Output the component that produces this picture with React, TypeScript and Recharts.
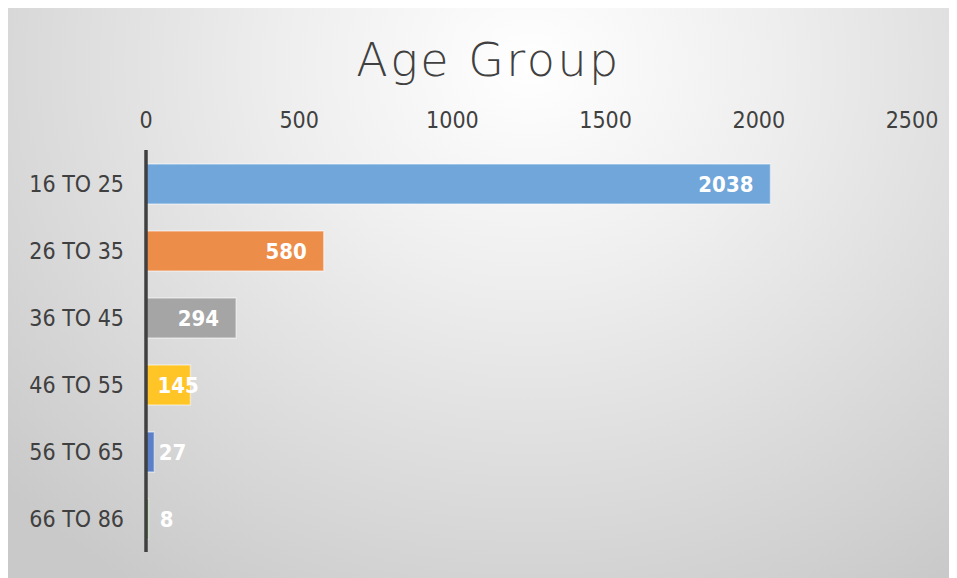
import React from 'react';
import { BarChart, Bar, XAxis, YAxis, Cell, LabelList } from 'recharts';

const categories = ['16 TO 25', '26 TO 35', '36 TO 45', '46 TO 55', '56 TO 65', '66 TO 86'];
const counts = [2038, 580, 294, 145, 27, 8];
const barColors = ['#70A6D9', '#ED8D4A', '#A5A5A5', '#FFC426', '#5B80C8', '#70AD47'];
const xTicks = [0, 500, 1000, 1500, 2000, 2500];

const data = categories.map((c, i) => ({ group: c, count: counts[i] }));

const FONT = '"DejaVu Sans Condensed", "DejaVu Sans", sans-serif';

const W = 949;
const H = 570;

const renderLabel = (props: any) => {
  const { x, y, width, height, value } = props;
  const s = String(value);
  const tw = s.length * 12.6;
  let right = x + width - 17;
  if (right - tw < x + 15) right = x + 15 + tw;
  return (
    <text
      x={right}
      y={y + height / 2}
      textAnchor="end"
      dominantBaseline="central"
      fill="#ffffff"
      fontFamily={FONT}
      fontWeight={700}
      fontSize={22}
    >
      {s}
    </text>
  );
};

export default function App() {
  return (
    <div
      style={{
        position: 'relative',
        width: W,
        height: H,
        background:
          'radial-gradient(ellipse 75% 110% at 55% 10%, #ffffff 0%, #eeeeee 35%, #dadada 70%, #c9c9c9 100%)',
      }}
    >
      <div
        style={{
          position: 'absolute',
          top: 29,
          left: 0,
          width: W,
          paddingLeft: 12,
          boxSizing: 'border-box',
          textAlign: 'center',
          fontFamily: '"DejaVu Sans", sans-serif',
          fontWeight: 200,
          fontSize: 46,
          lineHeight: '46px',
          letterSpacing: 2.5,
          color: '#404040',
        }}
      >
        Age Group
      </div>
      <BarChart
        width={W}
        height={H}
        data={data}
        layout="vertical"
        margin={{ top: 0, right: 45, bottom: 26, left: 0 }}
        barSize={40}
      >
        <XAxis
          type="number"
          orientation="top"
          domain={[0, 2500]}
          ticks={xTicks}
          height={142}
          axisLine={false}
          tickLine={false}
          tickSize={0}
          tickMargin={22}
          tick={{ fill: '#404040', fontSize: 23, fontFamily: FONT }}
          interval={0}
        />
        <YAxis
          type="category"
          dataKey="group"
          width={138}
          axisLine={{ stroke: '#404040', strokeWidth: 3.5 }}
          tickLine={false}
          tickSize={0}
          tickMargin={22}
          tick={{ fill: '#404040', fontSize: 23, fontFamily: FONT }}
          interval={0}
        />
        <Bar dataKey="count" isAnimationActive={false} stroke="rgba(255,255,255,0.45)" strokeWidth={1.5}>
          {data.map((d, i) => (
            <Cell key={d.group} fill={barColors[i]} />
          ))}
          <LabelList dataKey="count" content={renderLabel} />
        </Bar>
      </BarChart>
    </div>
  );
}
